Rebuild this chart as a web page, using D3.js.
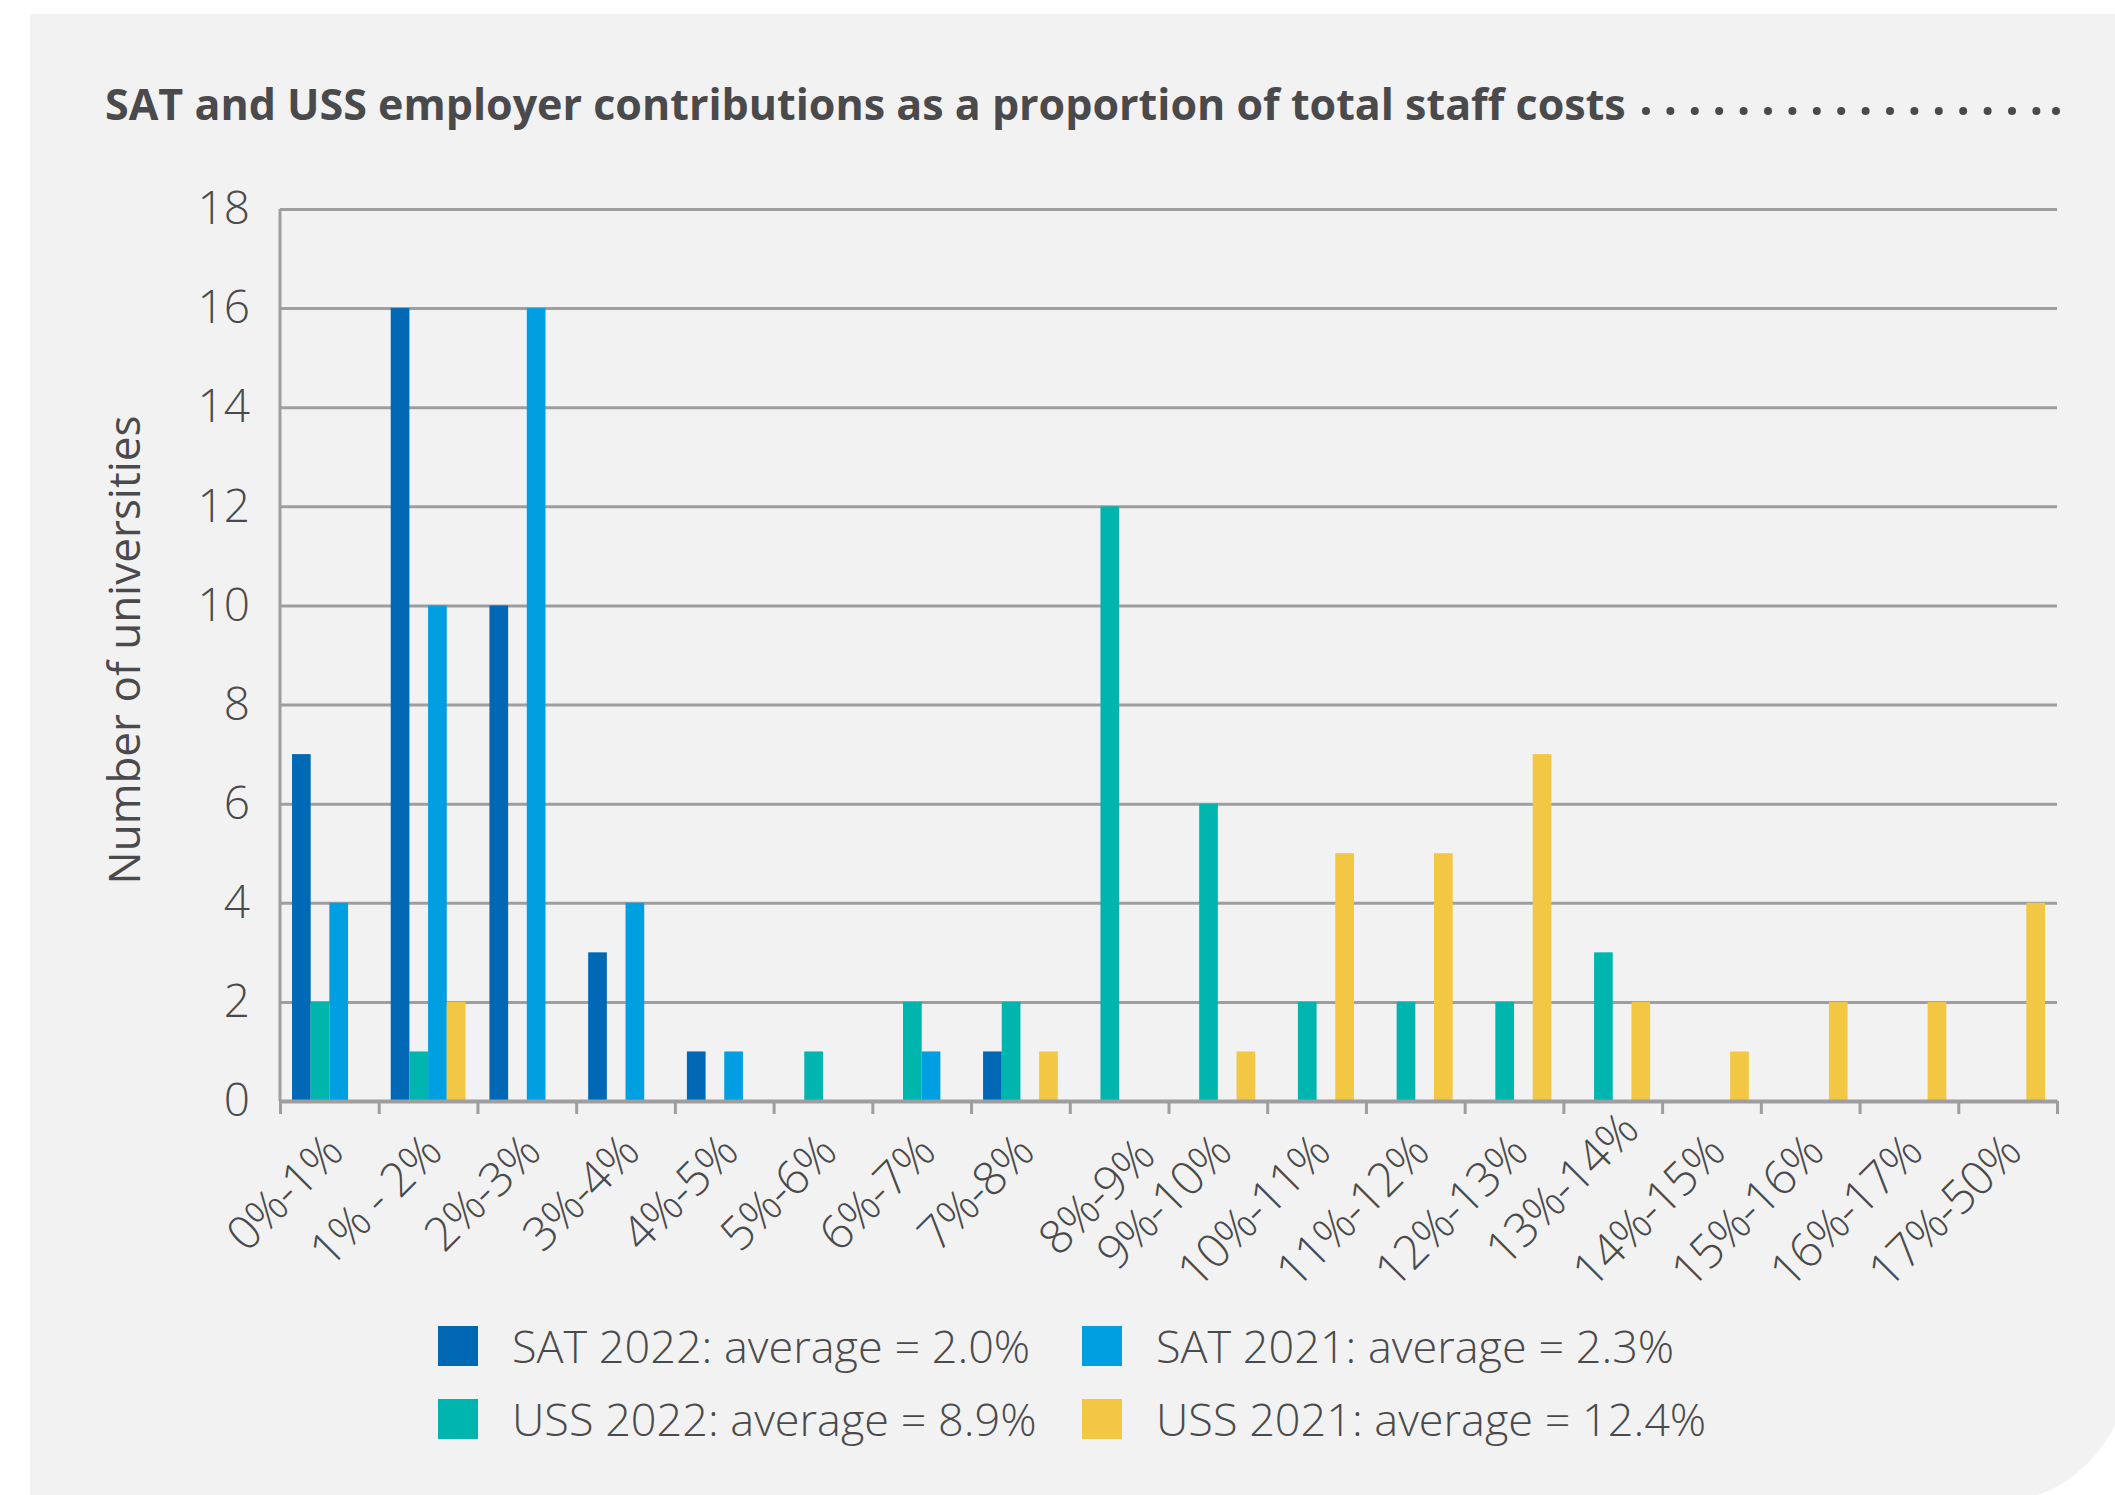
<!doctype html>
<html lang="en">
<head>
<meta charset="utf-8">
<title>SAT and USS employer contributions</title>
<script src="https://cdn.jsdelivr.net/npm/d3@7"></script>
<style>
  body { margin: 0; background: #fff; }
  text { font-family: "Open Sans", sans-serif; fill: #4a4a4c; }
</style>
</head>
<body>
<svg width="2115" height="1495"></svg>
<script>
// bins of contribution as % of staff costs
var categories = ["0%-1%", "1% - 2%", "2%-3%", "3%-4%", "4%-5%", "5%-6%", "6%-7%", "7%-8%", "8%-9%",
                  "9%-10%", "10%-11%", "11%-12%", "12%-13%", "13%-14%", "14%-15%", "15%-16%", "16%-17%", "17%-50%"];
var seriesNames = ["SAT 2022: average = 2.0%", "USS 2022: average = 8.9%",
                   "SAT 2021: average = 2.3%", "USS 2021: average = 12.4%"];
var sat2022 = [7, 16, 10, 3, 1, 0, 0, 1, 0, 0, 0, 0, 0, 0, 0, 0, 0, 0];
var uss2022 = [2, 1, 0, 0, 0, 1, 2, 2, 12, 6, 2, 2, 2, 3, 0, 0, 0, 0];
var sat2021 = [4, 10, 16, 4, 1, 0, 1, 0, 0, 0, 0, 0, 0, 0, 0, 0, 0, 0];
var uss2021 = [0, 2, 0, 0, 0, 0, 0, 1, 0, 1, 5, 5, 7, 2, 1, 2, 2, 4];
var yTicks = [0, 2, 4, 6, 8, 10, 12, 14, 16, 18];
var colors = ["#0068b4", "#00b5ad", "#009fe2", "#f2c744"];

var values = [sat2022, uss2022, sat2021, uss2021];
var grey = "#9e9ea1";

var svg = d3.select("svg");
var plotLeft = 280, plotRight = 2057, plotTop = 209, plotBottom = 1101;

// panel with the big rounded bottom-right corner
svg.append("path")
    .attr("d", "M30,14H2129V1364A140,140 0 0 1 1989,1504H30Z")
    .attr("fill", "#f2f2f2");

// title + dotted leader
svg.append("text")
    .attr("x", 105).attr("y", 120)
    .style("font-weight", 700)
    .style("font-size", "43px")
    .text("SAT and USS employer contributions as a proportion of total staff costs");
var dots = d3.range(1646, 2040, 24.4).concat([2056]);
svg.append("g").selectAll("circle")
    .data(dots)
    .join("circle")
    .attr("cx", function(d) { return d; })
    .attr("cy", 111).attr("r", 4)
    .attr("fill", "#4a4a4c");

var x0 = d3.scaleBand().domain(categories).range([plotLeft, plotRight]).padding(0);
var x1 = d3.scaleBand().domain(d3.range(seriesNames.length)).range([12, x0.bandwidth() - 12]);
var y = d3.scaleLinear().domain([0, 18]).range([plotBottom, plotTop]);

// gridlines + y labels
var yAxis = svg.append("g")
    .attr("transform", "translate(" + plotLeft + ",0)")
    .call(d3.axisLeft(y).tickValues(yTicks).tickSize(-(plotRight - plotLeft)).tickPadding(30));
yAxis.select(".domain").remove();
yAxis.selectAll(".tick line").attr("stroke", grey).attr("stroke-width", 3);
yAxis.selectAll(".tick text")
    .style("font-size", "46px").style("font-weight", 300).attr("fill", "#4a4a4c");

svg.append("line")
    .attr("x1", plotLeft).attr("x2", plotLeft).attr("y1", plotTop).attr("y2", plotBottom)
    .attr("stroke", grey).attr("stroke-width", 3);

// bars
var groups = svg.append("g").selectAll("g")
    .data(categories)
    .join("g")
    .attr("transform", function(d) { return "translate(" + x0(d) + ",0)"; });

groups.selectAll("rect")
    .data(function(d, i) { return values.map(function(v, s) { return {s: s, v: v[i]}; }); })
    .join("rect")
    .attr("x", function(d) { return x1(d.s); })
    .attr("width", x1.bandwidth())
    .attr("y", function(d) { return y(d.v); })
    .attr("height", function(d) { return plotBottom - y(d.v); })
    .attr("fill", function(d) { return colors[d.s]; });

// x axis with ticks at the bin edges
var edge = d3.scaleLinear().domain([0, categories.length]).range([plotLeft, plotRight]);
var xAxis = svg.append("g")
    .attr("transform", "translate(0," + plotBottom + ")")
    .call(d3.axisBottom(edge).ticks(categories.length).tickSize(13).tickSizeOuter(0).tickFormat(""));
xAxis.select(".domain").attr("stroke", grey).attr("stroke-width", 4);
xAxis.selectAll(".tick line").attr("stroke", grey).attr("stroke-width", 3);

// a couple of labels sit off their usual spot in the original
var nudge = {"8%-9%": [22, 4], "13%-14%": [12, -22]};

svg.append("g").selectAll("text")
    .data(categories)
    .join("text")
    .attr("transform", function(d) {
      var n = nudge[d] || [0, 0];
      var cx = x0(d) + x0.bandwidth() / 2 + 16 + n[0];
      var cy = plotBottom + 54 + n[1];
      return "translate(" + cx + "," + cy + ") rotate(-45)";
    })
    .attr("text-anchor", "end")
    .style("font-size", "47px").style("font-weight", 300)
    .style("letter-spacing", "-1px")
    .text(function(d) { return d; });

// y title
svg.append("text")
    .attr("transform", "translate(140,650) rotate(-90)")
    .attr("text-anchor", "middle")
    .style("font-size", "44px")
    .text("Number of universities");

// legend, two columns
var legend = svg.append("g").selectAll("g")
    .data(seriesNames)
    .join("g")
    .attr("transform", function(d, i) {
      return "translate(" + (438 + Math.floor(i / 2) * 644) + "," + (1326 + (i % 2) * 73) + ")";
    });
legend.append("rect")
    .attr("width", 40).attr("height", 40)
    .attr("fill", function(d, i) { return colors[i]; });
legend.append("text")
    .attr("x", 74).attr("y", 37)
    .style("font-size", "45px").style("font-weight", 300)
    .text(function(d) { return d; });
</script>
</body>
</html>
